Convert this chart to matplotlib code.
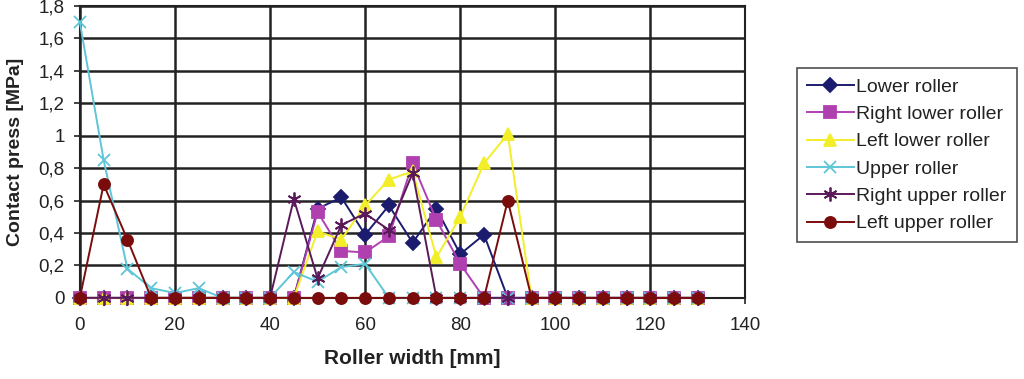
import matplotlib
matplotlib.use('Agg')
import matplotlib.pyplot as plt
from matplotlib.ticker import FuncFormatter, MultipleLocator

plt.rcParams['font.family'] = ['Liberation Sans', 'DejaVu Sans']

# Roller width positions [mm]
width_mm = [0, 5, 10, 15, 20, 25, 30, 35, 40, 45, 50, 55, 60, 65, 70,
            75, 80, 85, 90, 95, 100, 105, 110, 115, 120, 125, 130]

# Contact pressure [MPa] per roller
lower_roller = [0, 0, 0, 0, 0, 0, 0, 0, 0, 0, 0.55, 0.62, 0.39, 0.57, 0.34,
                0.55, 0.27, 0.39, 0, 0, 0, 0, 0, 0, 0, 0, 0]
right_lower_roller = [0, 0, 0, 0, 0, 0, 0, 0, 0, 0, 0.53, 0.29, 0.28, 0.38, 0.83,
                      0.48, 0.21, 0, 0, 0, 0, 0, 0, 0, 0, 0, 0]
left_lower_roller = [0, 0, 0, 0, 0, 0, 0, 0, 0, 0, 0.41, 0.36, 0.57, 0.73, 0.78,
                     0.25, 0.5, 0.83, 1.01, 0, 0, 0, 0, 0, 0, 0, 0]
upper_roller = [1.7, 0.85, 0.18, 0.06, 0.03, 0.06, 0, 0, 0, 0.16, 0.1, 0.19, 0.21, 0, 0,
                0, 0, 0, 0, 0, 0, 0, 0, 0, 0, 0, 0]
right_upper_roller = [0, 0, 0, 0, 0, 0, 0, 0, 0, 0.61, 0.12, 0.45, 0.52, 0.42, 0.77,
                      0, 0, 0, 0, 0, 0, 0, 0, 0, 0, 0, 0]
left_upper_roller = [0, 0.7, 0.36, 0, 0, 0, 0, 0, 0, 0, 0, 0, 0, 0, 0,
                     0, 0, 0, 0.6, 0, 0, 0, 0, 0, 0, 0, 0]

series = [
    ('Lower roller', lower_roller, '#1c1c6e', 'D', 7),
    ('Right lower roller', right_lower_roller, '#b040b0', 's', 8),
    ('Left lower roller', left_lower_roller, '#f2ee2a', '^', 9),
    ('Upper roller', upper_roller, '#5ec6d6', 'x', 8),
    ('Right upper roller', right_upper_roller, '#5a1a5a', (6, 2, 0), 10),
    ('Left upper roller', left_upper_roller, '#7a0c0c', 'o', 8),
]

fig = plt.figure(figsize=(10.24, 3.79), dpi=100)
ax = fig.add_axes([0.078, 0.214, 0.65, 0.77])

for name, vals, col, mk, ms in series:
    ax.plot(width_mm, vals, color=col, marker=mk, markersize=ms, lw=1.4,
            markeredgecolor=col, markeredgewidth=1.3, label=name, clip_on=False, zorder=3)

ax.set_xlim(0, 140)
ax.set_ylim(0, 1.8)
ax.xaxis.set_major_locator(MultipleLocator(20))
ax.yaxis.set_major_locator(MultipleLocator(0.2))
ax.yaxis.set_major_formatter(FuncFormatter(lambda v, p: ('%g' % round(v, 1)).replace('.', ',')))
ax.grid(True, color='#222222', lw=1.8, zorder=0)
ax.set_axisbelow(True)
for s in ax.spines.values():
    s.set_color('#222222')
    s.set_linewidth(1.5)
ax.tick_params(labelsize=13.5, colors='#222222', length=4, width=1.2)
ax.tick_params(axis='x', pad=10)
ax.tick_params(axis='y', pad=7)

ax.set_xlabel('Roller width [mm]', fontsize=15, fontweight='bold', color='#222222')
ax.set_ylabel('Contact press [MPa]', fontsize=14, fontweight='bold', color='#222222')
ax.xaxis.set_label_coords(0.5, -0.175)
ax.yaxis.set_label_coords(-0.084, 0.5)

leg = fig.legend(loc='upper left', bbox_to_anchor=(0.769, 0.845), fontsize=14,
                 frameon=True, fancybox=False, edgecolor='#222222',
                 handlelength=2.4, handletextpad=0.15, labelspacing=0.5,
                 borderpad=0.5)
leg.get_frame().set_linewidth(1.2)
for t in leg.get_texts():
    t.set_color('#222222')

fig.savefig('out.png', dpi=100)
